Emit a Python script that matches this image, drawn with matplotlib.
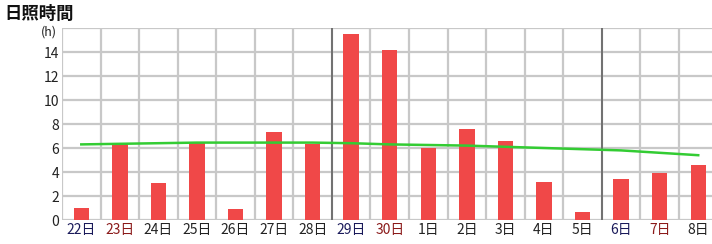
import matplotlib
matplotlib.use("Agg")
import matplotlib.pyplot as plt
import numpy as np

plt.rcParams["font.family"] = ["Noto Sans CJK JP", "DejaVu Sans"]

days = ["22日", "23日", "24日", "25日", "26日", "27日", "28日", "29日", "30日",
        "1日", "2日", "3日", "4日", "5日", "6日", "7日", "8日"]
sunshine = [1.0, 6.3, 3.1, 6.4, 0.9, 7.3, 6.3, 15.5, 14.2,
            6.0, 7.6, 6.6, 3.2, 0.7, 3.4, 3.9, 4.6]
normal = [6.3, 6.35, 6.4, 6.45, 6.45, 6.45, 6.45, 6.4, 6.3,
          6.25, 6.2, 6.1, 6.0, 5.9, 5.8, 5.6, 5.4]
label_colors = ["#1a1a5a", "#8b1a1a", "#222222", "#222222", "#222222", "#222222",
                "#222222", "#1a1a5a", "#8b1a1a", "#222222", "#222222", "#222222",
                "#222222", "#222222", "#1a1a5a", "#8b1a1a", "#222222"]
yticks = [0, 2, 4, 6, 8, 10, 12, 14]
week_breaks = [6.5, 13.5]

fig = plt.figure(figsize=(7.12, 2.44), dpi=100)
ax = fig.add_axes([62 / 712, 24 / 244, 655.5 / 712, 192 / 244])
x = np.arange(len(days))

# grid
for b in np.arange(-0.5, len(days), 1.0):
    ax.axvline(b, color="#c8c8c8", lw=1.6, zorder=0)
for v in range(0, 17, 2):
    ax.axhline(v, color="#c8c8c8", lw=1.6, zorder=0)
for b in week_breaks:
    ax.axvline(b, color="#707070", lw=1.4, zorder=1)

ax.bar(x, sunshine, width=0.4, color="#f04848", zorder=2)
ax.plot(x, normal, color="#33cc33", lw=1.8, zorder=3)

ax.set_xlim(-0.5, len(days) - 0.5)
ax.set_ylim(0, 16)
ax.set_yticks(yticks)
ax.set_yticklabels([str(v) for v in yticks], fontsize=10, color="#222222")
ax.set_xticks(x)
ax.set_xticklabels(days, fontsize=10)
for lbl, c in zip(ax.get_xticklabels(), label_colors):
    lbl.set_color(c)
ax.tick_params(length=0, pad=2)
for s in ax.spines.values():
    s.set_visible(False)

fig.text(4 / 712, 1 - 14 / 244, "日照時間", fontsize=12.5, fontweight="bold",
         va="center", ha="left", color="#111111")
fig.text(57 / 712, 1 - 32 / 244, "(h)", fontsize=9, va="center", ha="right",
         color="#222222")

fig.savefig("out.png", dpi=100, facecolor="white")
